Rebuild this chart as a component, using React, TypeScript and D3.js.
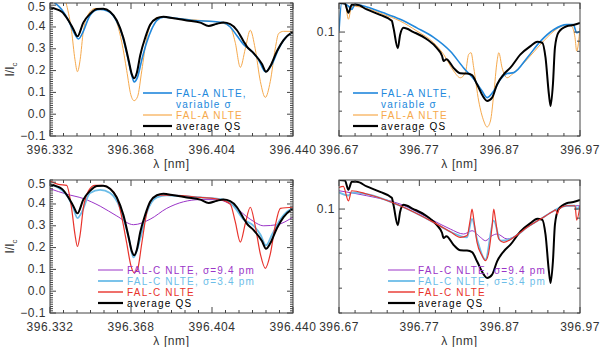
import React, { useEffect, useRef } from 'react';
import * as d3 from 'd3';

type Pt = [number, number];

// ---- left panels (396.332 - 396.440 nm), linear I/Ic ----
const avgQsLeft: Pt[] = [
  [396.332, 0.49], [396.3372, 0.47], [396.3402, 0.43], [396.3424, 0.39], [396.3442, 0.357],
  [396.3468, 0.42], [396.3498, 0.46], [396.3528, 0.482], [396.3557, 0.484], [396.3587, 0.47],
  [396.3617, 0.43], [396.3646, 0.35], [396.3669, 0.25], [396.3683, 0.185], [396.3694, 0.165],
  [396.3706, 0.19], [396.3721, 0.27], [396.3743, 0.35], [396.3765, 0.41], [396.3795, 0.44],
  [396.3824, 0.447], [396.3869, 0.44], [396.3928, 0.43], [396.3988, 0.42], [396.4025, 0.405],
  [396.4062, 0.415], [396.4091, 0.42], [396.4121, 0.413], [396.4151, 0.385], [396.418, 0.335],
  [396.4195, 0.31], [396.4225, 0.28], [396.4262, 0.23], [396.428, 0.195], [396.4299, 0.22],
  [396.4329, 0.29], [396.4358, 0.34], [396.4388, 0.37], [396.44, 0.375],
];
const falAVarLeft: Pt[] = [
  [396.332, 0.525], [396.3372, 0.48], [396.3402, 0.43], [396.3424, 0.38], [396.3446, 0.345],
  [396.3468, 0.38], [396.3491, 0.44], [396.352, 0.475], [396.3543, 0.48], [396.3572, 0.475],
  [396.3609, 0.44], [396.3639, 0.37], [396.3661, 0.28], [396.3683, 0.18], [396.3694, 0.148],
  [396.3709, 0.17], [396.3728, 0.25], [396.375, 0.33], [396.3772, 0.39], [396.3795, 0.43],
  [396.3824, 0.445], [396.3883, 0.44], [396.3958, 0.43], [396.4047, 0.425], [396.4091, 0.42],
  [396.4121, 0.4], [396.4151, 0.36], [396.418, 0.32], [396.421, 0.295], [396.4247, 0.25],
  [396.4277, 0.195], [396.4307, 0.23], [396.4336, 0.3], [396.4366, 0.35], [396.44, 0.375],
];
const falANlteLeft: Pt[] = [
  [396.332, 0.56], [396.3372, 0.56], [396.3394, 0.5], [396.3416, 0.38], [396.3431, 0.25],
  [396.3442, 0.195], [396.3454, 0.25], [396.3468, 0.38], [396.3491, 0.46], [396.352, 0.485],
  [396.355, 0.485], [396.3587, 0.47], [396.3617, 0.42], [396.3639, 0.33], [396.3661, 0.2],
  [396.3679, 0.09], [396.3694, 0.062], [396.3709, 0.08], [396.3728, 0.2], [396.375, 0.35],
  [396.3772, 0.42], [396.3802, 0.445], [396.3869, 0.44], [396.3988, 0.43], [396.4077, 0.42],
  [396.4121, 0.4], [396.4143, 0.33], [396.4166, 0.215], [396.4188, 0.3], [396.421, 0.385],
  [396.4232, 0.3], [396.4255, 0.15], [396.4277, 0.077], [396.4299, 0.15], [396.4321, 0.3],
  [396.4336, 0.37], [396.4358, 0.38], [396.44, 0.38],
];
const falCNlteLeft: Pt[] = [
  [396.332, 0.505], [396.3357, 0.49], [396.3394, 0.485], [396.3416, 0.38], [396.3431, 0.26],
  [396.3442, 0.205], [396.3454, 0.26], [396.3468, 0.38], [396.3491, 0.46], [396.352, 0.485],
  [396.355, 0.485], [396.3587, 0.47], [396.3617, 0.43], [396.3639, 0.34], [396.3661, 0.22],
  [396.3679, 0.12], [396.3694, 0.085], [396.3709, 0.1], [396.3728, 0.22], [396.375, 0.36],
  [396.3772, 0.42], [396.3802, 0.44], [396.3869, 0.44], [396.3988, 0.43], [396.4077, 0.42],
  [396.4121, 0.4], [396.4143, 0.32], [396.4166, 0.225], [396.4188, 0.31], [396.421, 0.385],
  [396.4232, 0.3], [396.4255, 0.17], [396.4277, 0.105], [396.4299, 0.17], [396.4321, 0.3],
  [396.4344, 0.38], [396.44, 0.385],
];
const falC34Left: Pt[] = [
  [396.332, 0.49], [396.3394, 0.44], [396.3424, 0.38], [396.3442, 0.335], [396.346, 0.36],
  [396.3498, 0.45], [396.3543, 0.465], [396.3587, 0.45], [396.3632, 0.38], [396.3669, 0.25],
  [396.3691, 0.155], [396.3721, 0.24], [396.375, 0.36], [396.3795, 0.43], [396.3839, 0.44],
  [396.3988, 0.43], [396.4091, 0.42], [396.4136, 0.39], [396.418, 0.33], [396.4225, 0.3],
  [396.4255, 0.26], [396.428, 0.21], [396.4307, 0.26], [396.4344, 0.33], [396.4373, 0.365],
  [396.44, 0.38],
];
const falC94Left: Pt[] = [
  [396.332, 0.47], [396.3394, 0.445], [396.3468, 0.425], [396.3543, 0.39], [396.3617, 0.345],
  [396.3691, 0.305], [396.3765, 0.33], [396.3839, 0.38], [396.3913, 0.41], [396.3988, 0.42],
  [396.4062, 0.42], [396.4136, 0.39], [396.421, 0.33], [396.427, 0.3], [396.4329, 0.305],
  [396.44, 0.34],
];

// ---- right panels (396.67 - 396.97 nm), log I/Ic ----
const avgQsRight: Pt[] = [
  [396.67, 0.14], [396.6775, 0.139], [396.6817, 0.125], [396.6858, 0.137], [396.6921, 0.137],
  [396.7045, 0.13], [396.7212, 0.122], [396.7357, 0.114], [396.7378, 0.105], [396.7432, 0.083],
  [396.7461, 0.097], [396.7503, 0.105], [396.7628, 0.1], [396.7794, 0.092], [396.7919, 0.083],
  [396.7982, 0.076], [396.8002, 0.0715], [396.8036, 0.073], [396.8127, 0.066], [396.821, 0.062],
  [396.8294, 0.0618], [396.8356, 0.0608], [396.8418, 0.0546], [396.8502, 0.0468], [396.8543, 0.045],
  [396.8606, 0.0468], [396.8668, 0.0546], [396.8751, 0.0613], [396.8834, 0.0662], [396.8959, 0.0772],
  [396.9084, 0.085], [396.9168, 0.0894], [396.923, 0.0884], [396.9271, 0.0743], [396.9313, 0.0486],
  [396.9334, 0.0425], [396.9363, 0.0546], [396.9388, 0.0834], [396.943, 0.0992], [396.9534, 0.107],
  [396.9617, 0.1084], [396.97, 0.111],
];
const falAVarRight: Pt[] = [
  [396.67, 0.101], [396.6733, 0.14], [396.6817, 0.135], [396.6858, 0.13], [396.69, 0.138],
  [396.7045, 0.1335], [396.7253, 0.125], [396.7461, 0.116], [396.7669, 0.105], [396.7878, 0.094],
  [396.8086, 0.08], [396.8252, 0.066], [396.8377, 0.058], [396.8481, 0.0505], [396.8543, 0.0468],
  [396.8626, 0.0505], [396.871, 0.0578], [396.8793, 0.0618], [396.8876, 0.0625], [396.9043, 0.0743],
  [396.9209, 0.09], [396.9376, 0.103], [396.9534, 0.109], [396.9617, 0.109], [396.9659, 0.0992],
  [396.97, 0.101],
];
const falANlteRight: Pt[] = [
  [396.67, 0.14], [396.6775, 0.14], [396.6817, 0.116], [396.6858, 0.135], [396.7045, 0.1315],
  [396.7253, 0.1227], [396.7461, 0.1136], [396.7669, 0.1012], [396.7878, 0.0884], [396.8002, 0.0772],
  [396.8127, 0.0637], [396.821, 0.0589], [396.8273, 0.0625], [396.8314, 0.0772], [396.8344, 0.0787],
  [396.8377, 0.0662], [396.8439, 0.045], [396.8502, 0.0357], [396.8543, 0.0333], [396.8585, 0.0357],
  [396.8626, 0.0486], [396.8668, 0.0715], [396.8689, 0.0787], [396.873, 0.0662], [396.8793, 0.0589],
  [396.8876, 0.0625], [396.9043, 0.0729], [396.9209, 0.0867], [396.9376, 0.1012], [396.943, 0.105],
  [396.9471, 0.107], [396.9534, 0.109], [396.9596, 0.107], [396.9638, 0.0937], [396.9659, 0.0802],
  [396.97, 0.105],
];
const falCNlteRight: Pt[] = [
  [396.67, 0.1285], [396.6754, 0.13], [396.6817, 0.11], [396.6858, 0.1236], [396.7045, 0.119],
  [396.7461, 0.1039], [396.7878, 0.0857], [396.8086, 0.0769], [396.821, 0.0721], [396.8294, 0.0735],
  [396.8335, 0.0891], [396.8356, 0.1], [396.8377, 0.0891], [396.8418, 0.068], [396.8481, 0.0583],
  [396.8523, 0.055], [396.8564, 0.0606], [396.8606, 0.0824], [396.8626, 0.1], [396.8647, 0.0891],
  [396.8689, 0.0707], [396.8751, 0.068], [396.8876, 0.0721], [396.9043, 0.0809], [396.9209, 0.0891],
  [396.9376, 0.0981], [396.9397, 0.0992], [396.9418, 0.0944], [396.9439, 0.1], [396.9534, 0.1039],
  [396.9638, 0.1039], [396.9659, 0.088], [396.97, 0.1039],
];
const falC34Right: Pt[] = [
  [396.67, 0.1213], [396.6817, 0.117], [396.6858, 0.121], [396.7045, 0.119], [396.7461, 0.1039],
  [396.7878, 0.0857], [396.8086, 0.0769], [396.8294, 0.0721], [396.8356, 0.0891], [396.8418, 0.0707],
  [396.8523, 0.0556], [396.8626, 0.0874], [396.871, 0.0693], [396.8876, 0.0721], [396.9043, 0.0809],
  [396.9209, 0.0891], [396.9376, 0.0981], [396.9534, 0.1039], [396.9638, 0.1039], [396.9659, 0.1],
  [396.97, 0.1039],
];
const falC94Right: Pt[] = [
  [396.67, 0.1236], [396.7045, 0.1167], [396.7461, 0.106], [396.7878, 0.0874], [396.8086, 0.0793],
  [396.8252, 0.0749], [396.8356, 0.0778], [396.846, 0.0721], [396.8523, 0.0693], [396.8606, 0.0735],
  [396.8668, 0.0749], [396.8793, 0.0707], [396.9043, 0.0809], [396.9209, 0.0891], [396.9376, 0.0981],
  [396.9534, 0.1039], [396.97, 0.1039],
];

const leftTicks = [396.332, 396.368, 396.404, 396.44];
const rightTicks = [396.67, 396.77, 396.87, 396.97];
const linTicks = [-0.1, 0.0, 0.1, 0.2, 0.3, 0.4, 0.5];
const logTicks = [0.1];

const BLUE = '#2188dc';
const ORANGE = '#f6a94c';
const LIGHTBLUE = '#6cbde8';
const PURPLE = '#9b35c8';
const RED = '#e8332c';
const BLACK = '#000';
const AXIS = '#444';
const FONT = '"Liberation Sans", Arial, sans-serif';

const panels = [
  {
    box: [50, 293, 3, 136], log: false, xd: [396.332, 396.44], xt: leftTicks, xMinor: 0.006,
    series: [
      { d: falANlteLeft, c: ORANGE, w: 1 }, { d: falAVarLeft, c: BLUE, w: 1.6 }, { d: avgQsLeft, c: BLACK, w: 2 },
    ],
    legend: { lx: [143, 172], tx: 176, rows: [
      { y: 93, c: BLUE, w: 1.6, t: ['FAL-A NLTE,', 'variable σ'] },
      { y: 115, c: ORANGE, w: 1.2, t: ['FAL-A NLTE'] },
      { y: 126, c: BLACK, w: 2.2, t: ['average QS'] },
    ] },
  },
  {
    box: [339, 580, 3, 136], log: true, xd: [396.67, 396.97], xt: rightTicks, xMinor: 0.02,
    series: [
      { d: falANlteRight, c: ORANGE, w: 1 }, { d: falAVarRight, c: BLUE, w: 1.6 }, { d: avgQsRight, c: BLACK, w: 2 },
    ],
    legend: { lx: [353, 378], tx: 381, rows: [
      { y: 93, c: BLUE, w: 1.6, t: ['FAL-A NLTE,', 'variable σ'] },
      { y: 115, c: ORANGE, w: 1.2, t: ['FAL-A NLTE'] },
      { y: 126, c: BLACK, w: 2.2, t: ['average QS'] },
    ] },
  },
  {
    box: [50, 293, 180, 313], log: false, xd: [396.332, 396.44], xt: leftTicks, xMinor: 0.006,
    series: [
      { d: falC94Left, c: PURPLE, w: 1 }, { d: falC34Left, c: LIGHTBLUE, w: 1.8 },
      { d: falCNlteLeft, c: RED, w: 1.2 }, { d: avgQsLeft, c: BLACK, w: 2 },
    ],
    legend: { lx: [98, 123], tx: 127, rows: [
      { y: 270, c: PURPLE, w: 1, t: ['FAL-C NLTE, σ=9.4 pm'] },
      { y: 281, c: LIGHTBLUE, w: 1.8, t: ['FAL-C NLTE, σ=3.4 pm'] },
      { y: 292, c: RED, w: 1.4, t: ['FAL-C NLTE'] },
      { y: 303, c: BLACK, w: 2.2, t: ['average QS'] },
    ] },
  },
  {
    box: [339, 580, 180, 313], log: true, xd: [396.67, 396.97], xt: rightTicks, xMinor: 0.02,
    series: [
      { d: falC94Right, c: PURPLE, w: 1 }, { d: falC34Right, c: LIGHTBLUE, w: 1.8 },
      { d: avgQsRight, c: BLACK, w: 2 }, { d: falCNlteRight, c: RED, w: 1.2 },
    ],
    legend: { lx: [388, 415], tx: 418, rows: [
      { y: 270, c: PURPLE, w: 1, t: ['FAL-C NLTE, σ=9.4 pm'] },
      { y: 281, c: LIGHTBLUE, w: 1.8, t: ['FAL-C NLTE, σ=3.4 pm'] },
      { y: 292, c: RED, w: 1.4, t: ['FAL-C NLTE'] },
      { y: 303, c: BLACK, w: 2.2, t: ['average QS'] },
    ] },
  },
];

export default function App() {
  const svgRef = useRef<SVGSVGElement>(null);

  useEffect(() => {
    document.body.style.margin = '0';
    const svg = d3.select(svgRef.current);
    svg.selectAll('*').remove();
    svg.append('rect').attr('width', 600).attr('height', 347).attr('fill', '#fff');

    panels.forEach((p, pi) => {
      const [x0, x1, y0, y1] = p.box;
      const x = d3.scaleLinear().domain(p.xd).range([x0, x1]);
      const y: any = p.log
        ? d3.scaleLog().domain([0.03, 0.14]).range([y1, y0])
        : d3.scaleLinear().domain([-0.1, 0.51]).range([y1, y0]);

      const g = svg.append('g');
      const clipId = `clip${pi}`;
      svg.append('clipPath').attr('id', clipId)
        .append('rect').attr('x', x0).attr('y', y0).attr('width', x1 - x0).attr('height', y1 - y0);

      // curves
      const line = d3.line<Pt>().x(d => x(d[0])).y(d => y(d[1])).curve(d3.curveMonotoneX);
      const cg = g.append('g').attr('clip-path', `url(#${clipId})`);
      p.series.forEach(s => {
        cg.append('path').datum(s.d).attr('d', line).attr('fill', 'none')
          .attr('stroke', s.c).attr('stroke-width', s.w).attr('stroke-linejoin', 'round');
      });

      // frame
      g.append('rect').attr('x', x0).attr('y', y0).attr('width', x1 - x0).attr('height', y1 - y0)
        .attr('fill', 'none').attr('stroke', AXIS).attr('stroke-width', 1);

      const tick = (xa: number, ya: number, xb: number, yb: number) =>
        g.append('line').attr('x1', xa).attr('y1', ya).attr('x2', xb).attr('y2', yb)
          .attr('stroke', AXIS).attr('stroke-width', 1);

      // x ticks
      const [d0, d1] = p.xd;
      const nMinor = Math.round((d1 - d0) / p.xMinor);
      for (let i = 0; i <= nMinor; i++) {
        const xv = x(d0 + i * p.xMinor);
        const major = p.xt.some(t => Math.abs(t - (d0 + i * p.xMinor)) < 1e-6);
        const len = major ? 6 : 3;
        tick(xv, y1, xv, y1 - len);
        tick(xv, y0, xv, y0 + len);
      }
      p.xt.forEach(t => {
        g.append('text').attr('x', x(t)).attr('y', y1 + 17.5).attr('text-anchor', 'middle')
          .attr('font-family', FONT).attr('font-size', 12).attr('letter-spacing', 0.5)
          .attr('fill', '#333').text(t.toFixed(pi % 2 ? 2 : 3));
      });
      g.append('text').attr('x', (x0 + x1) / 2).attr('y', y1 + 31.5).attr('text-anchor', 'middle')
        .attr('font-family', FONT).attr('font-size', 12).attr('letter-spacing', 0.6)
        .attr('fill', '#333').text('λ [nm]');

      // y ticks
      if (!p.log) {
        for (let i = 0; i <= 61; i++) {
          const v = -0.1 + i * 0.01;
          const major = i % 10 === 0;
          const len = major ? 6 : 3;
          tick(x0, y(v), x0 + len, y(v));
          tick(x1, y(v), x1 - len, y(v));
        }
        linTicks.forEach(t => {
          g.append('text').attr('x', x0 - 4).attr('y', Math.max(y(t) + 3.5, y0 + 8))
            .attr('text-anchor', 'end')
            .attr('font-family', FONT).attr('font-size', 12).attr('letter-spacing', 0.5)
            .attr('fill', '#333').text(t < 0 ? '\u2212' + Math.abs(t).toFixed(1) : t.toFixed(1));
        });
        const yl = g.append('text').attr('transform', `translate(14,${(y0 + y1) / 2}) rotate(-90)`)
          .attr('text-anchor', 'middle').attr('font-family', FONT).attr('font-size', 12)
          .attr('fill', '#333');
        yl.append('tspan').text('I/I');
        yl.append('tspan').attr('font-size', 8).attr('dy', 3).text('c');
      } else {
        [0.03, 0.04, 0.05, 0.06, 0.07, 0.08, 0.09, 0.1].forEach(v => {
          const len = v === 0.1 ? 6 : 3;
          tick(x0, y(v), x0 + len, y(v));
          tick(x1, y(v), x1 - len, y(v));
        });
        logTicks.forEach(t => {
          g.append('text').attr('x', x0 - 4).attr('y', y(t) + 4).attr('text-anchor', 'end')
            .attr('font-family', FONT).attr('font-size', 12).attr('letter-spacing', 0.5)
            .attr('fill', '#333').text(String(t));
        });
      }

      // legend
      const lg = p.legend;
      lg.rows.forEach(r => {
        g.append('line').attr('x1', lg.lx[0]).attr('x2', lg.lx[1]).attr('y1', r.y).attr('y2', r.y)
          .attr('stroke', r.c).attr('stroke-width', r.w);
        r.t.forEach((s, k) => {
          g.append('text').attr('x', lg.tx).attr('y', r.y + 3.5 + k * 11)
            .attr('font-family', FONT).attr('font-size', 10).attr('letter-spacing', 1.2)
            .attr('fill', r.c).text(s);
        });
      });
    });
  }, []);

  return <svg ref={svgRef} width={600} height={347} style={{ display: 'block' }} />;
}
